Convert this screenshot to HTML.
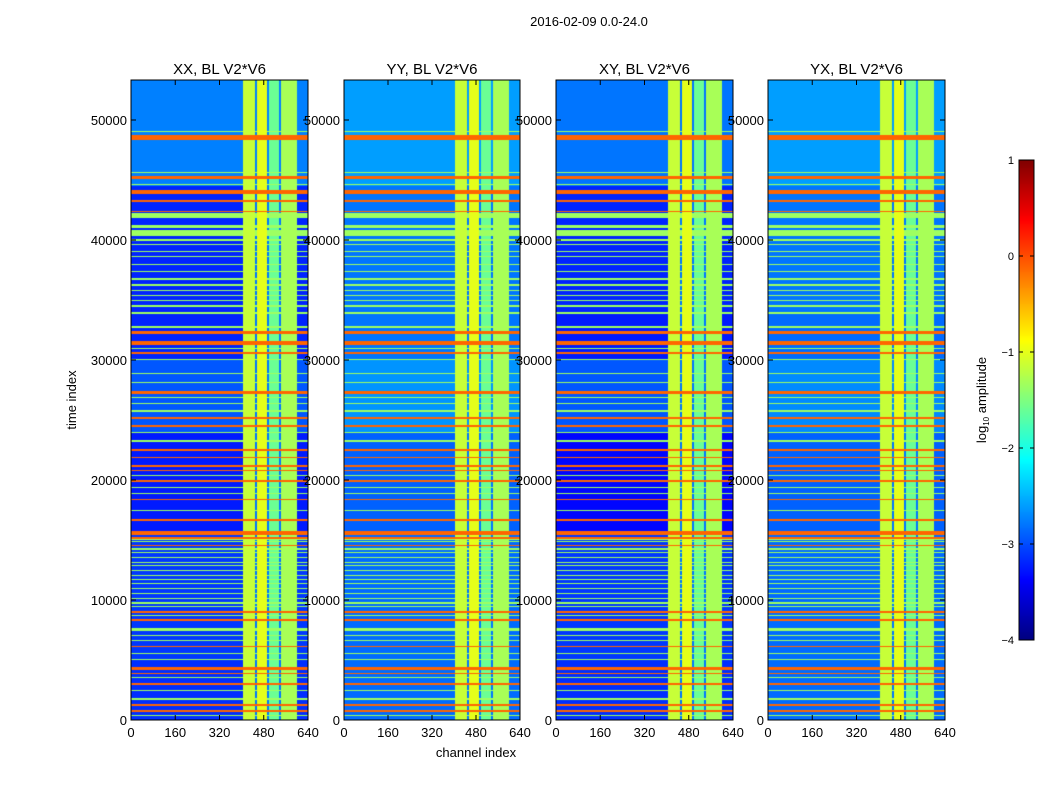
<!DOCTYPE html>
<html><head><meta charset="utf-8">
<style>
body{margin:0;background:#fff;font-family:"Liberation Sans",sans-serif;}
#wrap{position:relative;width:1050px;height:800px;overflow:hidden;background:#fff;}
canvas{position:absolute;}
svg{position:absolute;left:0;top:0;}
text{font-family:"Liberation Sans",sans-serif;fill:#000;}
</style></head><body>
<div id="wrap">
<canvas id="c0" width="177" height="640" style="left:131px;top:80px"></canvas>
<canvas id="c1" width="176" height="640" style="left:344px;top:80px"></canvas>
<canvas id="c2" width="177" height="640" style="left:556px;top:80px"></canvas>
<canvas id="c3" width="177" height="640" style="left:768px;top:80px"></canvas>
<canvas id="cb" width="15" height="480" style="left:1019px;top:160px"></canvas>
<svg id="ov" width="1050" height="800"></svg>
</div>
<script>
// ---- data ----
const panelTitles = ["XX, BL V2*V6","YY, BL V2*V6","XY, BL V2*V6","YX, BL V2*V6"];
const xTicks = [0,160,320,480,640];
const yTicks = [0,10000,20000,30000,40000,50000];
const cbTicks = [1,0,-1,-2,-3,-4];
const orangeRows = [[48300,48750,-0.12],[45100,45300,-0.12],[43850,44200,-0.12],[43150,43300,-0.12],[42300,42450,-0.12],
 [32150,32400,-0.12],[31250,31600,-0.12],[30500,30650,-0.12],[27200,27380,-0.12],[25080,25250,-0.12],[24420,24580,-0.12],
 [22430,22560,-0.12],[21850,21950,-0.12],[21100,21250,-0.12],[20720,20840,-0.12],[19870,19970,-0.12],[18350,18450,-0.12],
 [16620,16720,-0.12],[15400,15750,-0.12],[15120,15220,-0.12],[14530,14620,-0.12],[8950,9050,-0.12],[8280,8380,-0.12],
 [6050,6150,-0.12],[4200,4450,-0.12],[3850,3950,-0.12],[2950,3050,-0.12],[1200,1300,-0.12],[700,800,-0.12]];
const greenRows = [[49000,49100,-1.35],[45600,45700,-1.35],[44600,44700,-1.35],[41850,42250,-1.35],[41000,41250,-1.35],[40350,40800,-1.35],
 [39950,40050,-1.35],[39550,39650,-1.35],[39000,39100,-1.35],[38600,38700,-1.35],[37900,38000,-1.35],[37300,37400,-1.35],
 [36700,36800,-1.35],[36200,36300,-1.35],[35750,35850,-1.35],[35300,35400,-1.35],[34900,35000,-1.35],[34400,34550,-1.35],
 [33850,34000,-1.35],[32700,32800,-1.35],[30900,31000,-1.35],[30000,30100,-1.35],[28850,28950,-1.35],[28050,28150,-1.35],
 [26800,26900,-1.35],[26300,26400,-1.35],[25700,25800,-1.35],[23900,24000,-1.35],[23200,23300,-1.35],[20300,20400,-1.35],
 [19300,19400,-1.35],[18800,18900,-1.35],[17400,17500,-1.35],[15000,15080,-1.35],[14800,14880,-1.35],[14200,14300,-1.35],
 [13900,13980,-1.35],[13500,13600,-1.35],[13100,13200,-1.35],[12800,12880,-1.35],[12400,12500,-1.35],[12000,12100,-1.35],
 [11700,11780,-1.35],[11300,11400,-1.35],[10900,11000,-1.35],[10500,10600,-1.35],[10100,10200,-1.35],[9700,9800,-1.35],
 [9400,9480,-1.35],[8650,8750,-1.35],[7450,7700,-1.35],[7000,7100,-1.35],[6600,6700,-1.35],[5500,5600,-1.35],
 [5000,5100,-1.35],[3500,3600,-1.35],[2400,2500,-1.35],[1700,1800,-1.35],[300,400,-1.35]];
const rfiCols = [[405,447,-1.15],[447,454,-2.8],[454,492,-1.0],[492,498,-2.8],[498,535,-1.6],[535,541,-2.8],[541,600,-1.3]];
const bgXX = [[0,5000,-3.15],[5000,15500,-3.1],[15500,24000,-3.25],[24000,30000,-2.95],[30000,34000,-3.2],[34000,44500,-3.2],[44500,53334,-2.75]];
const bgYY = [[0,5000,-2.85],[5000,15500,-2.85],[15500,24000,-2.9],[24000,30000,-2.65],[30000,34000,-2.8],[34000,44500,-2.8],[44500,53334,-2.6]];
const bgXY = [[0,5000,-3.15],[5000,15500,-3.1],[15500,24000,-3.35],[24000,30000,-2.95],[30000,34000,-3.25],[34000,44500,-3.2],[44500,53334,-2.8]];
const bgYX = [[0,5000,-2.85],[5000,15500,-2.85],[15500,24000,-2.9],[24000,30000,-2.7],[30000,34000,-2.85],[34000,44500,-2.8],[44500,53334,-2.6]];
const panelBgs = [bgXX,bgYY,bgXY,bgYX];

// ---- scales ----
const T_MAX = 53334, CH_MAX = 640, V_MIN=-4, V_MAX=1;
const panelX = [131,344,556,768], panelW=[177,176,177,177], PT=80, PH=640;
function xScale(ch,p){return ch/CH_MAX*panelW[p];}
function yScale(t){return PH - t/T_MAX*PH;}
function jet(v){
  let t=(v-V_MIN)/(V_MAX-V_MIN); t=Math.max(0,Math.min(1,t));
  const c=x=>Math.round(255*Math.max(0,Math.min(1,x)));
  return [c(1.5-Math.abs(4*t-3)),c(1.5-Math.abs(4*t-2)),c(1.5-Math.abs(4*t-1))];
}
function lvl(list,x,def){let v=def;for(const b of list){if(x>=b[0]&&x<b[1]&&b[2]>v)v=b[2];}return v;}

for(let p=0;p<4;p++){
  const cv=document.getElementById('c'+p), ctx=cv.getContext('2d');
  const W=cv.width, img=ctx.createImageData(W,PH);
  const colL=[];
  for(let x=0;x<W;x++){colL.push(lvl(rfiCols,(x+0.5)/W*CH_MAX,-9));}
  for(let y=0;y<PH;y++){
    const t=(PH-y-0.5)/PH*T_MAX;
    const bg=lvl(panelBgs[p],t,-9);
    const r=Math.max(lvl(orangeRows,t,-9),lvl(greenRows,t,-9));
    for(let x=0;x<W;x++){
      const v=Math.max(bg,r,colL[x]);
      const c=jet(v), i=(y*W+x)*4;
      img.data[i]=c[0];img.data[i+1]=c[1];img.data[i+2]=c[2];img.data[i+3]=255;
    }
  }
  ctx.putImageData(img,0,0);
}
(function(){
  const cv=document.getElementById('cb'),ctx=cv.getContext('2d');
  for(let y=0;y<480;y++){const v=V_MAX-(y+0.5)/480*(V_MAX-V_MIN);const c=jet(v);ctx.fillStyle=`rgb(${c})`;ctx.fillRect(0,y,15,1);}
})();

// ---- overlay ----
const NS='http://www.w3.org/2000/svg', ov=document.getElementById('ov');
function mk(tag,attrs,txt){const e=document.createElementNS(NS,tag);for(const k in attrs)e.setAttribute(k,attrs[k]);if(txt!==undefined)e.textContent=txt;ov.appendChild(e);return e;}
let e;
e=mk('text',{x:589,y:26,'text-anchor':'middle','font-size':13},'2016-02-09 0.0-24.0');


for(let p=0;p<4;p++){
  const L=panelX[p],W=panelW[p];
  e=mk('rect',{x:L,y:PT,width:W,height:PH,fill:'none',stroke:'#000','stroke-width':1});
  
  
  e=mk('text',{x:L+W/2,y:PT-6,'text-anchor':'middle','font-size':15},panelTitles[p]);
  
  
  for(const xt of xTicks){
    const X=L+xScale(xt,p);
    mk('line',{x1:X,y1:PT+PH,x2:X,y2:PT+PH-5,stroke:'#000'});
    mk('line',{x1:X,y1:PT,x2:X,y2:PT+5,stroke:'#000'});
    e=mk('text',{x:X,y:PT+PH+17,'text-anchor':'middle','font-size':13},String(xt));
    
    
  }
  for(const yt of yTicks){
    const Y=PT+yScale(yt);
    mk('line',{x1:L,y1:Y,x2:L+5,y2:Y,stroke:'#000'});
    mk('line',{x1:L+W,y1:Y,x2:L+W-5,y2:Y,stroke:'#000'});
    e=mk('text',{x:L-4,y:Y+5,'text-anchor':'end','font-size':13},String(yt));
    
    
  }
}
e=mk('text',{x:0,y:0,'text-anchor':'middle','font-size':13,transform:'translate(76,400) rotate(-90)'},'time index');


e=mk('text',{x:476,y:757,'text-anchor':'middle','font-size':13},'channel index');


e=mk('rect',{x:1019,y:160,width:15,height:480,fill:'none',stroke:'#000'});


for(const v of cbTicks){
  const Y=160+(V_MAX-v)/(V_MAX-V_MIN)*480;
  mk('line',{x1:1019,y1:Y,x2:1023,y2:Y,stroke:'#000'});
  mk('line',{x1:1034,y1:Y,x2:1030,y2:Y,stroke:'#000'});
  e=mk('text',{x:1014,y:Y+4,'text-anchor':'end','font-size':11},v<0?'\u2212'+(-v):String(v));
  
  
}
e=mk('text',{x:0,y:0,'text-anchor':'middle','font-size':13,transform:'translate(986,400) rotate(-90)'});


e.innerHTML='log<tspan font-size="8" dy="3">10</tspan><tspan dy="-3"> amplitude</tspan>';
</script>
</body></html>
